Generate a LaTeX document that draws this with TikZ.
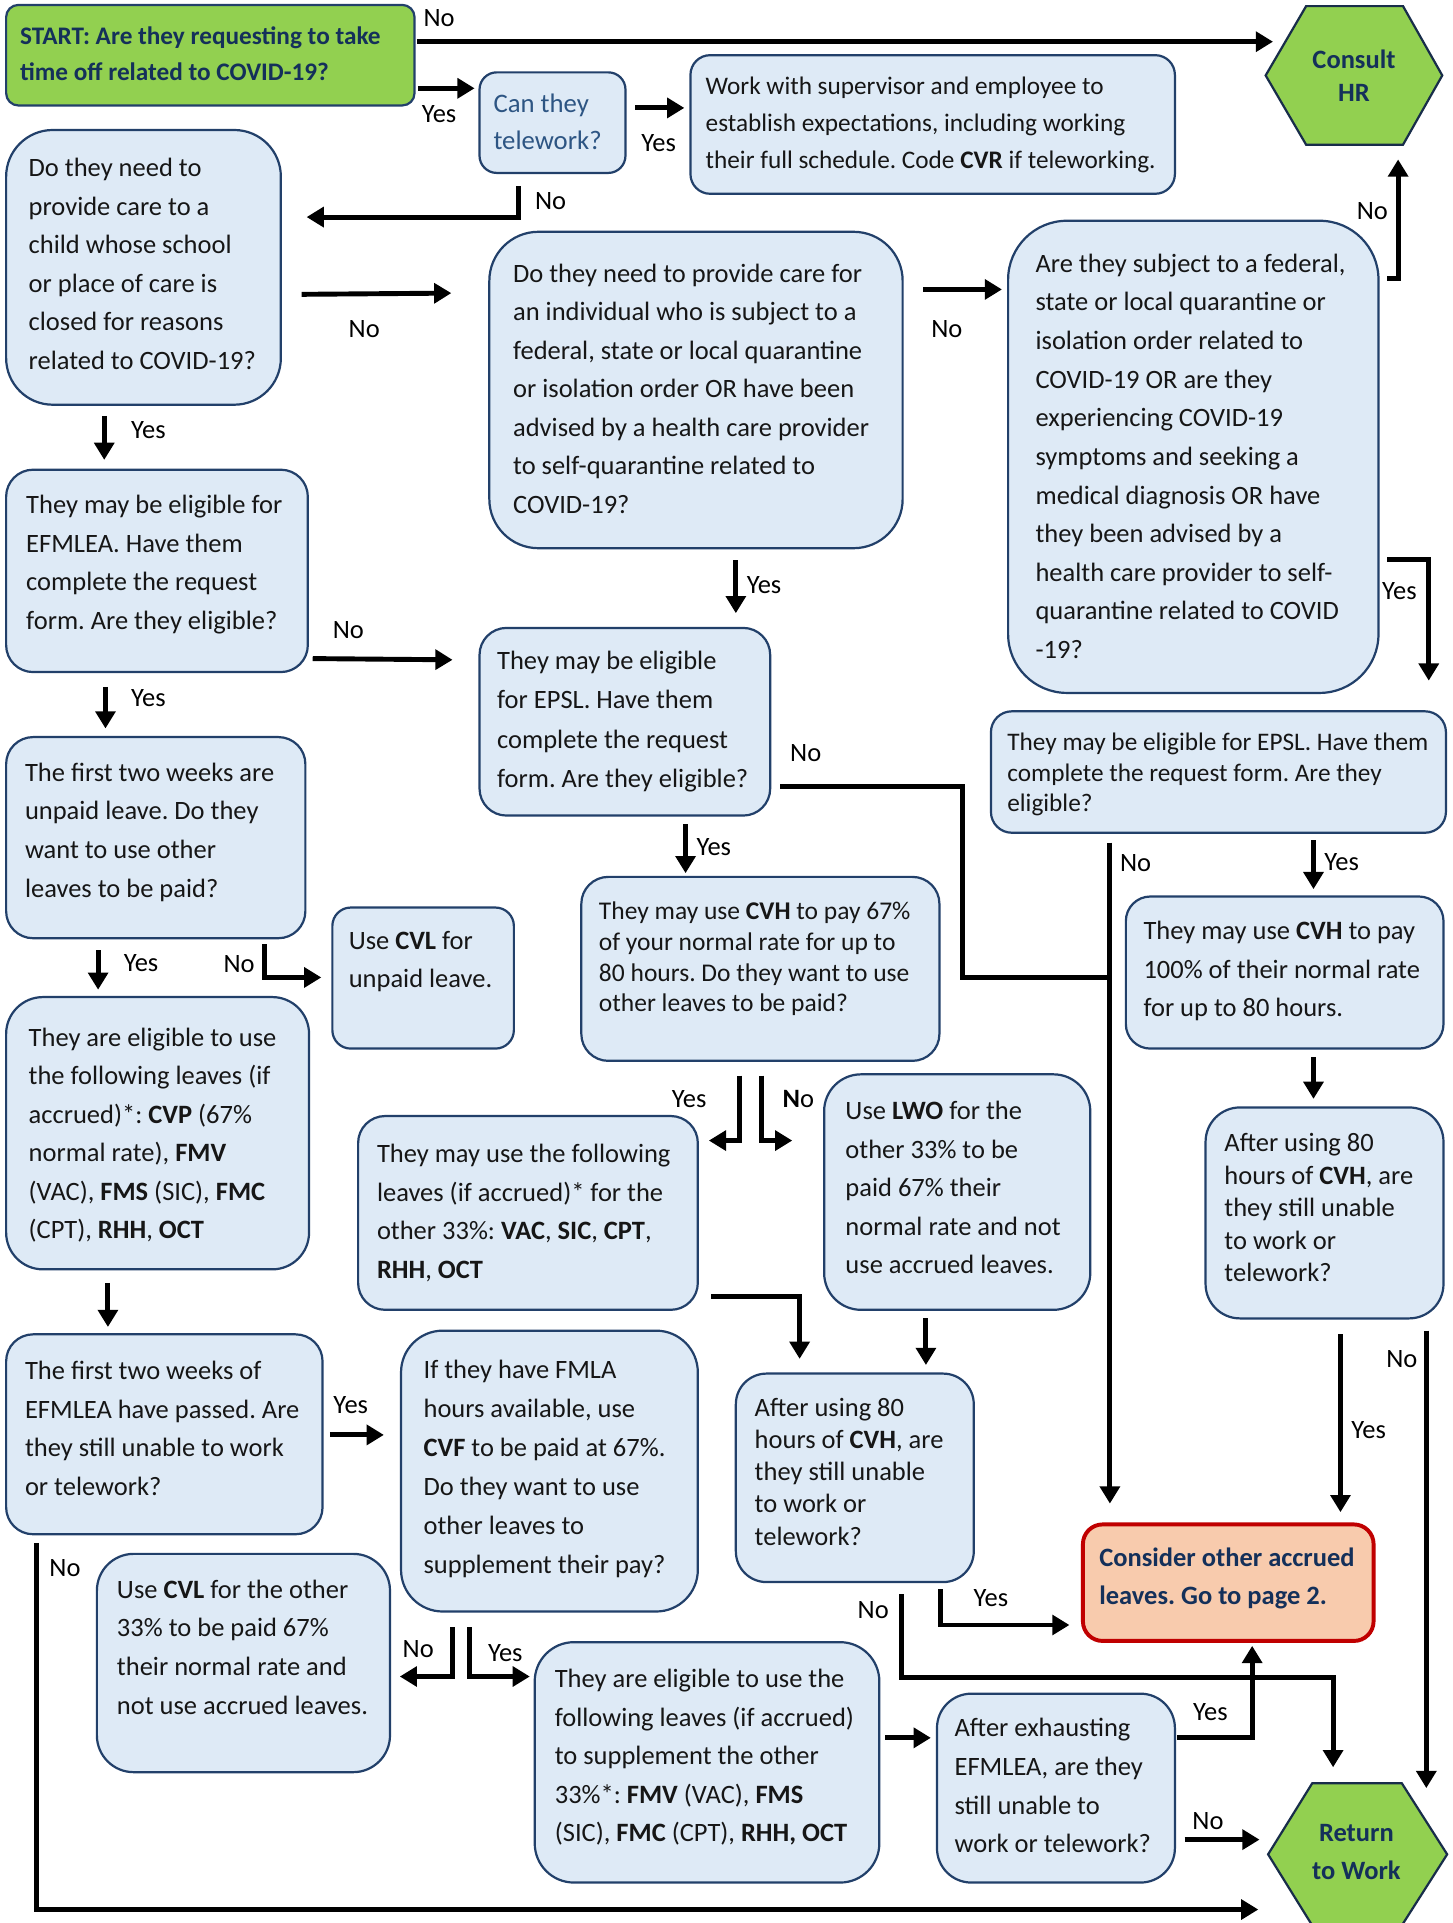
\documentclass[tikz,border=0pt]{standalone}
\usepackage{fontspec}
\setmainfont{Carlito}
\frenchspacing
\usetikzlibrary{arrows.meta,calc}
\definecolor{boxfill}{HTML}{DEEAF6}
\definecolor{boxline}{HTML}{22406A}
\definecolor{navy}{HTML}{14305A}
\definecolor{hexgreen}{HTML}{92D050}
\definecolor{salmon}{HTML}{F8CBAD}
\definecolor{darkred}{HTML}{C00000}
\definecolor{tblue}{HTML}{2D5583}
\definecolor{textc}{HTML}{161616}
\newcommand\mlines[1]{\begin{tabular}[t]{@{}l@{}}#1\end{tabular}}
\newcommand\mcent[1]{\begin{tabular}{@{}c@{}}#1\end{tabular}}
\newcommand\fsz[2]{\fontsize{#1}{#2}\selectfont}
% name, x1, y1, x2, y2, radius(pt)
\newcommand\mkbox[7][box]{\node[#1, rounded corners=#7pt, minimum width={(#5-#3)*0.5pt}, minimum height={(#6-#4)*0.5pt}, anchor=north west] (#2) at (#3,#4) {};}
\begin{document}
\begin{tikzpicture}[x=0.5pt,y=-0.5pt,
  box/.style={draw=boxline, fill=boxfill, line width=0.9pt, inner sep=0pt, outer sep=0pt},
  startbox/.style={box, fill=hexgreen},
  consbox/.style={box, fill=salmon, draw=darkred, line width=1.6pt},
  hexa/.style={draw=boxline!70!black, fill=hexgreen, line width=0.9pt},
  txt/.style={anchor=base west, inner sep=0pt, text=textc, font=\fsz{10.8}{15.7}\frenchspacing},
  boldtxt/.style={txt, text=navy, font=\fsz{10.8}{15.5}\bfseries\frenchspacing},
  lab/.style={inner sep=0pt, text=black, font=\fsz{10.8}{13}},
  arr/.style={line width=2pt, line join=miter, -{Triangle[length=7pt,width=8pt]}},
  ln/.style={line width=2pt, line join=miter}]
\path[use as bounding box, fill=white] (0,0) rectangle (1184,1568);

% ---------------- boxes ----------------
\mkbox[startbox]{b1}{5}{4}{338}{86}{5}
\mkbox{b3}{391}{59}{510}{141}{7}
\mkbox{b4}{563}{45}{958}{158}{8}
\mkbox{b5}{5}{106}{229}{330}{19}
\mkbox{b6}{399}{189}{736}{447}{20}
\mkbox{b7}{822}{180}{1124}{565}{24}
\mkbox{b8}{5}{383}{251}{548}{11}
\mkbox{b9}{391}{512}{628}{665}{11}
\mkbox{b10}{808}{580}{1179}{679}{8.5}
\mkbox{b11}{5}{601}{249}{765}{11}
\mkbox{b12}{271}{740}{419}{855}{7.5}
\mkbox{b13}{474}{715}{766}{865}{11}
\mkbox{b14}{918}{731}{1177}{855}{10}
\mkbox{b15}{5}{813}{252}{1035}{15}
\mkbox{b16}{292}{910}{569}{1068}{11}
\mkbox{b17}{672}{876}{889}{1068}{15}
\mkbox{b18}{983}{903}{1177}{1075}{14}
\mkbox{b19}{5}{1088}{263}{1251}{11}
\mkbox{b20}{327}{1085}{569}{1314}{17}
\mkbox{b21}{600}{1120}{794}{1290}{12.5}
\mkbox[consbox]{b22}{883}{1243}{1120}{1338}{8}
\mkbox{b23}{79}{1267}{318}{1445}{15}
\mkbox{b24}{436}{1339}{717}{1535}{16}
\mkbox{b25}{764}{1381}{958}{1535}{14}

% hexagons
\draw[hexa] (1065,5) -- (1144,5) -- (1176,61.5) -- (1144,118) -- (1065,118) -- (1032,61.5) -- cycle;
\draw[hexa] (1070,1454) -- (1143,1454) -- (1180,1512) -- (1143,1570) -- (1070,1570) -- (1034,1512) -- cycle;

% ---------------- texts ----------------
\node[boldtxt, font=\fsz{10.3}{15}\bfseries\frenchspacing] (t1) at (16,36) {\mlines{START: Are they requesting to take\\time off related to COVID-19?}};
\node[boldtxt, anchor=center, font=\fsz{10.8}{13.5}\bfseries] (t2) at (1104,64) {\mcent{Consult\\HR}};
\node[txt, text=tblue, font=\fsz{10.9}{15}] (t3) at (402,92) {\mlines{Can they\\telework?}};
\node[txt, font=\fsz{10.3}{15}\frenchspacing] (t4) at (575,77) {\mlines{Work with supervisor and employee to\\establish expectations, including working\\their full schedule. Code \textbf{CVR} if teleworking.}};
\node[txt] (t5) at (23,144) {\mlines{Do they need to\\provide care to a\\child whose school\\or place of care is\\closed for reasons\\related to COVID-19?}};
\node[txt] (t6) at (418,230) {\mlines{Do they need to provide care for\\an individual who is subject to a\\federal, state or local quarantine\\or isolation order OR have been\\advised by a health care provider\\to self-quarantine related to\\COVID-19?}};
\node[txt, font=\fsz{10.8}{15.75}] (t7) at (844,222) {\mlines{Are they subject to a federal,\\state or local quarantine or\\isolation order related to\\COVID-19 OR are they\\experiencing COVID-19\\symptoms and seeking a\\medical diagnosis OR have\\they been advised by a\\health care provider to self-\\quarantine related to COVID\\-19?}};
\node[txt] (t8) at (21,419) {\mlines{They may be eligible for\\EFMLEA. Have them\\complete the request\\form. Are they eligible?}};
\node[txt, font=\fsz{10.8}{16}\frenchspacing] (t9) at (405,546) {\mlines{They may be eligible\\for EPSL. Have them\\complete the request\\form. Are they eligible?}};
\node[txt, font=\fsz{10.3}{12.5}\frenchspacing] (t10) at (821,612) {\mlines{They may be eligible for EPSL. Have them\\complete the request form. Are they\\eligible?}};
\node[txt, font=\fsz{10.8}{15.8}\frenchspacing] (t11) at (20,637) {\mlines{The first two weeks are\\unpaid leave. Do they\\want to use other\\leaves to be paid?}};
\node[txt, font=\fsz{10.8}{15.5}] (t12) at (284,774) {\mlines{Use \textbf{CVL} for\\unpaid leave.}};
\node[txt, font=\fsz{10.4}{12.5}\frenchspacing] (t13) at (488,750) {\mlines{They may use \textbf{CVH} to pay 67\%\\of your normal rate for up to\\80 hours. Do they want to use\\other leaves to be paid?}};
\node[txt, font=\fsz{10.8}{15.75}] (t14) at (932,766) {\mlines{They may use \textbf{CVH} to pay\\100\% of their normal rate\\for up to 80 hours.}};
\node[txt] (t15) at (23,853) {\mlines{They are eligible to use\\the following leaves (if\\accrued)*: \textbf{CVP} (67\%\\normal rate), \textbf{FMV}\\(VAC), \textbf{FMS} (SIC), \textbf{FMC}\\(CPT), \textbf{RHH}, \textbf{OCT}}};
\node[txt] (t16) at (307,948) {\mlines{They may use the following\\leaves (if accrued)* for the\\other 33\%: \textbf{VAC}, \textbf{SIC}, \textbf{CPT},\\\textbf{RHH}, \textbf{OCT}}};
\node[txt] (t17) at (689,913) {\mlines{Use \textbf{LWO} for the\\other 33\% to be\\paid 67\% their\\normal rate and not\\use accrued leaves.}};
\node[txt, font=\fsz{10.8}{13.25}] (t18) at (998,939) {\mlines{After using 80\\hours of \textbf{CVH}, are\\they still unable\\to work or\\telework?}};
\node[txt] (t19) at (20,1125) {\mlines{The first two weeks of\\EFMLEA have passed. Are\\they still unable to work\\or telework?}};
\node[txt, font=\fsz{10.8}{15.9}\frenchspacing] (t20) at (345,1124) {\mlines{If they have FMLA\\hours available, use\\\textbf{CVF} to be paid at 67\%.\\Do they want to use\\other leaves to\\supplement their pay?}};
\node[txt, font=\fsz{10.8}{13.1}] (t21) at (615,1155) {\mlines{After using 80\\hours of \textbf{CVH}, are\\they still unable\\to work or\\telework?}};
\node[boldtxt] (t22) at (896,1277) {\mlines{Consider other accrued\\leaves. Go to page 2.}};
\node[txt, font=\fsz{10.8}{15.8}] (t23) at (95,1303) {\mlines{Use \textbf{CVL} for the other\\33\% to be paid 67\%\\their normal rate and\\not use accrued leaves.}};
\node[txt] (t24) at (452,1376) {\mlines{They are eligible to use the\\following leaves (if accrued)\\to supplement the other\\33\%*: \textbf{FMV} (VAC), \textbf{FMS}\\(SIC), \textbf{FMC} (CPT), \textbf{RHH, OCT}}};
\node[txt, font=\fsz{10.8}{15.8}] (t25) at (778,1416) {\mlines{After exhausting\\EFMLEA, are they\\still unable to\\work or telework?}};
\node[boldtxt, anchor=center, font=\fsz{10.8}{15.5}\bfseries] (t26) at (1106,1511) {\mcent{Return\\to Work}};

% ---------------- connector end points ----------------
\coordinate (a1s) at (340,34);   \coordinate (a1e) at (1038,34);
\coordinate (a2s) at (341,72);   \coordinate (a2e) at (387,72);
\coordinate (a3s) at (518,88);   \coordinate (a3e) at (558,88);
\coordinate (a4s) at (423,152);  \coordinate (a4e) at (250,177);
\coordinate (a5s) at (246,240);  \coordinate (a5e) at (368,239);
\coordinate (a6s) at (753,236);  \coordinate (a6e) at (817,236);
\coordinate (a7s) at (1131,227); \coordinate (a7e) at (1140,130);
\coordinate (a8s) at (1131,456); \coordinate (a8e) at (1165,555);
\coordinate (a9s) at (85,339);   \coordinate (a9e) at (85,375);
\coordinate (a10s) at (600,457); \coordinate (a10e) at (600,500);
\coordinate (a11s) at (255,537); \coordinate (a11e) at (369,538);
\coordinate (a12s) at (86,560);  \coordinate (a12e) at (86,594);
\coordinate (a13s) at (636,641); \coordinate (a13m) at (785,641); \coordinate (a13e) at (903,797);
\coordinate (a14s) at (905,687); \coordinate (a14e) at (905,1226);
\coordinate (a15s) at (559,672); \coordinate (a15e) at (559,712);
\coordinate (a16s) at (1071,685); \coordinate (a16e) at (1071,725);
\coordinate (a17s) at (80,775);  \coordinate (a17e) at (80,807);
\coordinate (a18s) at (216,770); \coordinate (a18e) at (262,797);
\coordinate (a19s) at (603,877); \coordinate (a19e) at (578,930);
\coordinate (a20s) at (621,877); \coordinate (a20e) at (646,930);
\coordinate (a21s) at (1071,862); \coordinate (a21e) at (1071,896);
\coordinate (a22s) at (88,1046); \coordinate (a22e) at (88,1082);
\coordinate (a23s) at (580,1057); \coordinate (a23e) at (652,1108);
\coordinate (a24s) at (755,1075); \coordinate (a24e) at (755,1113);
\coordinate (a25s) at (1163,1085); \coordinate (a25e) at (1163,1458);
\coordinate (a26s) at (1093,1088); \coordinate (a26e) at (1093,1233);
\coordinate (a27s) at (269,1170); \coordinate (a27e) at (313,1170);
\coordinate (a28s) at (30,1258); \coordinate (a28e) at (1026,1557);
\coordinate (a29s) at (369,1327); \coordinate (a29e) at (326,1367);
\coordinate (a30s) at (383,1327); \coordinate (a30e) at (432,1367);
\coordinate (a31s) at (767,1296); \coordinate (a31e) at (872,1325);
\coordinate (a32s) at (735,1300); \coordinate (a32m) at (1087,1368); \coordinate (a32e) at (1087,1441);
\coordinate (a33s) at (722,1417); \coordinate (a33e) at (759,1417);
\coordinate (a34s) at (960,1417); \coordinate (a34e) at (1021,1342);
\coordinate (a35s) at (966,1500); \coordinate (a35e) at (1027,1500);

% ---------------- connectors ----------------
\draw[arr] (a1s) -- (a1e);
\draw[arr] (a2s) -- (a2e);
\draw[arr] (a3s) -- (a3e);
\draw[arr] (a4s) |- (a4e);
\draw[arr] (a5s) -- (a5e);
\draw[arr] (a6s) -- (a6e);
\draw[arr] (a7s) -| (a7e);
\draw[arr] (a8s) -| (a8e);
\draw[arr] (a9s) -- (a9e);
\draw[arr] (a10s) -- (a10e);
\draw[arr] (a11s) -- (a11e);
\draw[arr] (a12s) -- (a12e);
\draw[ln] (a13s) -- (a13m) |- (a13e);
\draw[arr] (a14s) -- (a14e);
\draw[arr] (a15s) -- (a15e);
\draw[arr] (a16s) -- (a16e);
\draw[arr] (a17s) -- (a17e);
\draw[arr] (a18s) |- (a18e);
\draw[arr] (a19s) |- (a19e);
\draw[arr] (a20s) |- (a20e);
\draw[arr] (a21s) -- (a21e);
\draw[arr] (a22s) -- (a22e);
\draw[arr] (a23s) -| (a23e);
\draw[arr] (a24s) -- (a24e);
\draw[arr] (a25s) -- (a25e);
\draw[arr] (a26s) -- (a26e);
\draw[arr] (a27s) -- (a27e);
\draw[arr] (a28s) |- (a28e);
\draw[arr] (a29s) |- (a29e);
\draw[arr] (a30s) |- (a30e);
\draw[arr] (a31s) |- (a31e);
\draw[arr] (a32s) |- (a32m) -- (a32e);
\draw[arr] (a33s) -- (a33e);
\draw[arr] (a34s) -| (a34e);
\draw[arr] (a35s) -- (a35e);

% ---------------- labels ----------------
\node[lab] (l1) at (358,15) {No};
\node[lab] (l2) at (358,93) {Yes};
\node[lab] (l3) at (537,117) {Yes};
\node[lab] (l4) at (449,164) {No};
\node[lab] (l5) at (297,268) {No};
\node[lab] (l6) at (772,268) {No};
\node[lab] (l7) at (1119,172) {No};
\node[lab] (l8) at (1141,482) {Yes};
\node[lab] (l9) at (121,351) {Yes};
\node[lab] (l10) at (623,477) {Yes};
\node[lab] (l11) at (284,514) {No};
\node[lab] (l12) at (121,569) {Yes};
\node[lab] (l13) at (657,614) {No};
\node[lab] (l14) at (582,691) {Yes};
\node[lab] (l15) at (926,704) {No};
\node[lab] (l16) at (1094,703) {Yes};
\node[lab] (l17) at (115,785) {Yes};
\node[lab] (l18) at (195,786) {No};
\node[lab] (l19) at (562,896) {Yes};
\node[lab] (l20) at (651,896) {\textbf{N}o};
\node[lab] (l21) at (1143,1108) {No};
\node[lab] (l22) at (1116,1166) {Yes};
\node[lab] (l23) at (286,1146) {Yes};
\node[lab] (l24) at (53,1279) {No};
\node[lab] (l25) at (341,1345) {No};
\node[lab] (l26) at (412,1348) {Yes};
\node[lab] (l27) at (808,1303) {Yes};
\node[lab] (l28) at (712,1313) {No};
\node[lab] (l29) at (987,1396) {Yes};
\node[lab] (l30) at (985,1485) {No};
\end{tikzpicture}
\end{document}
